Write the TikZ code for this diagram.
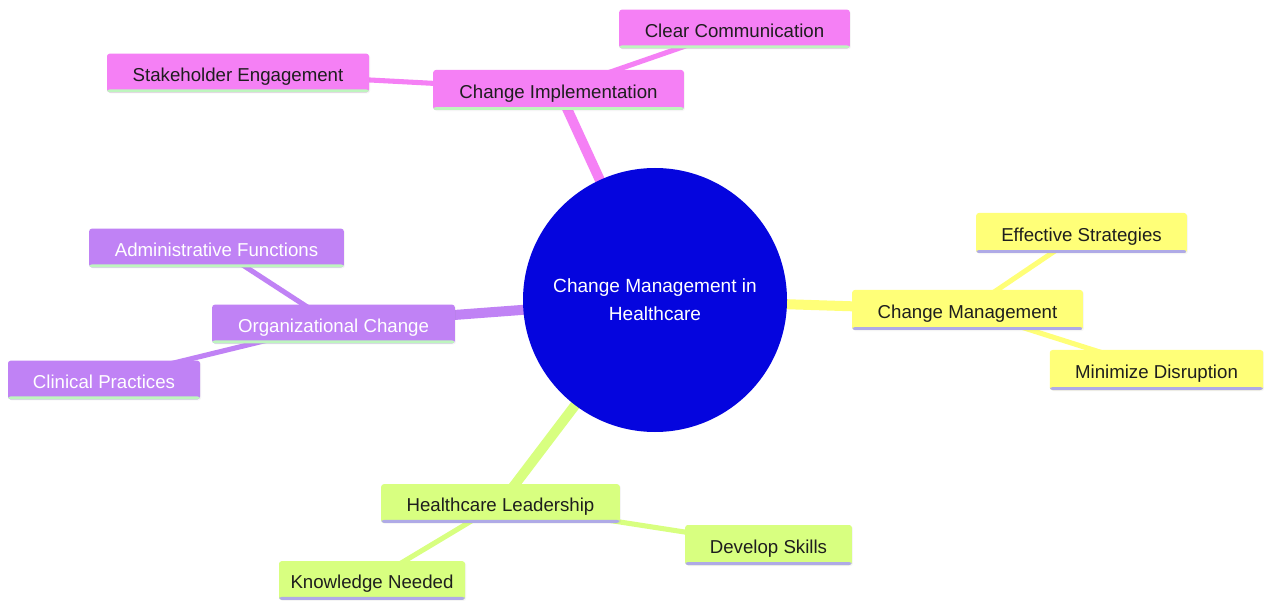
\documentclass[tikz,border=0pt]{standalone}
\usepackage{fontspec}
\setmainfont{Liberation Sans}
\usetikzlibrary{backgrounds,shadows}
\definecolor{pinkc}{RGB}{245,128,245}
\definecolor{purplec}{RGB}{192,130,245}
\definecolor{yellowc}{RGB}{255,255,120}
\definecolor{greenc}{RGB}{216,255,128}
\definecolor{bluec}{RGB}{5,5,222}
\definecolor{lgreen}{RGB}{190,245,190}
\definecolor{lpurple}{RGB}{175,170,230}
\definecolor{txt}{RGB}{30,30,30}
\tikzset{
  box/.style={rectangle, rounded corners=2pt, inner sep=0pt, minimum height=29pt,
    text height=13.5pt, text depth=1pt,
    font=\fontsize{14}{16}\selectfont, text=txt,
    drop shadow={opacity=0.08, shadow xshift=0.8pt, shadow yshift=-0.8pt}},
  bline/.style={path picture={\fill[#1] ([yshift=2.2pt]path picture bounding box.south west) rectangle (path picture bounding box.south east);}},
  pinkbox/.style={box, fill=pinkc, bline=lgreen},
  purplebox/.style={box, fill=purplec, text=white, bline=lgreen},
  yellowbox/.style={box, fill=yellowc, bline=lpurple},
  greenbox/.style={box, fill=greenc, bline=lpurple},
  mainedge/.style={line width=7.5pt},
  subedge/.style={line width=3.8pt},
}
\begin{document}
\begin{tikzpicture}[x=0.75pt,y=-0.75pt]
\useasboundingbox (0,0) rectangle (1264,602);
% center
\node[circle, fill=bluec, minimum size=198pt, inner sep=0pt, text=white, align=center,
  font=\fontsize{14.3}{21}\selectfont] (root) at (655,300) {Change Management in\\Healthcare};
% pink
\node[pinkbox, minimum width=188pt, minimum height=30pt] (ci) at (558.5,90) {Change Implementation};
\node[pinkbox, minimum width=173pt] (cc) at (734.5,29) {Clear Communication};
\node[pinkbox, minimum width=196.5pt] (se) at (238,73) {Stakeholder Engagement};
% purple
\node[purplebox, minimum width=182pt] (oc) at (333.5,324) {Organizational Change};
\node[purplebox, minimum width=191pt] (af) at (216.5,248) {Administrative Functions};
\node[purplebox, minimum width=144pt] (cp) at (104,380) {Clinical Practices};
% yellow
\node[yellowbox, minimum width=173pt, minimum height=30pt] (cm) at (967.5,310) {Change Management};
\node[yellowbox, minimum width=158pt, minimum height=30pt] (es) at (1081.5,233) {Effective Strategies};
\node[yellowbox, minimum width=160pt, minimum height=30pt] (md) at (1156.5,370) {Minimize Disruption};
% green
\node[greenbox, minimum width=179pt] (hl) at (500.5,503.5) {Healthcare Leadership};
\node[greenbox, minimum width=125pt, minimum height=30pt] (ds) at (768.5,545) {Develop Skills};
\node[greenbox, minimum width=139.5pt] (kn) at (372,580.5) {Knowledge Needed};
\begin{pgfonlayer}{background}
\fill[white] (0,0) rectangle (1264,602);
\draw[mainedge, pinkc] (root.center) -- (ci.center);
\draw[subedge, pinkc] (ci.center) -- (cc.center);
\draw[subedge, pinkc] (ci.center) -- (se.center);
\draw[mainedge, purplec] (root.center) -- (oc.center);
\draw[subedge, purplec] (oc.center) -- (af.center);
\draw[subedge, purplec] (oc.center) -- (cp.center);
\draw[mainedge, yellowc] (root.center) -- (cm.center);
\draw[subedge, yellowc] (cm.center) -- (es.center);
\draw[subedge, yellowc] (cm.center) -- (md.center);
\draw[mainedge, greenc] (root.center) -- (hl.center);
\draw[subedge, greenc] (hl.center) -- (ds.center);
\draw[subedge, greenc] (hl.center) -- (kn.center);
\end{pgfonlayer}
\end{tikzpicture}
\end{document}
